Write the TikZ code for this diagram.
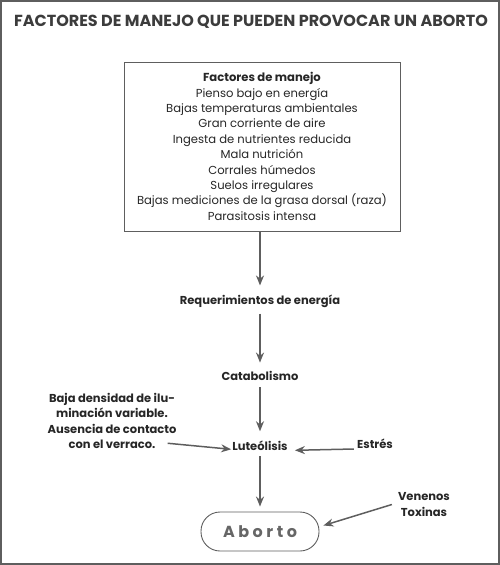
\documentclass[tikz,border=0pt]{standalone}
\usepackage{fontspec}
\setmainfont{Poppins}
\usetikzlibrary{positioning,arrows.meta}
\definecolor{linegray}{HTML}{5E5E5E}
\definecolor{titlegray}{HTML}{3C3C3C}
\begin{document}
\begin{tikzpicture}
            [x=1pt,y=-1pt,
             arr/.style ={draw=linegray,line width=1.5pt,-{Stealth[length=10pt,width=8pt]}},
             lbl/.style ={font=\fontsize{11.5}{15.6}\selectfont\bfseries,text=black!85,inner sep=1pt,align=center},
             factbox/.style ={draw=linegray,line width=0.9pt,minimum width=276pt,minimum height=169pt,
                  align=center,font=\fontsize{11.6}{15.4}\selectfont,text=black!85},
             pill/.style ={draw=linegray,line width=0.9pt,rounded corners=19pt,minimum width=118pt,minimum height=39pt,
                  text=black!60,font=\fontsize{16}{18}\selectfont\bfseries\addfontfeature{LetterSpace=22}}]
            \useasboundingbox (0,0) rectangle (500,565);
            \draw[linegray,line width=2pt] (1,1) rectangle (499,564);
            \node[font=\fontsize{16}{18}\selectfont\bfseries,text=titlegray] (titulo) at (251,22)
                 {FACTORES DE MANEJO QUE PUEDEN PROVOCAR UN ABORTO};
            \node[factbox] (factores) at (262,146.5)
                 {\textbf{Factores de manejo}\\Pienso bajo en energía\\Bajas temperaturas ambientales\\
                  Gran corriente de aire\\Ingesta de nutrientes reducida\\Mala nutrición\\Corrales húmedos\\
                  Suelos irregulares\\Bajas mediciones de la grasa dorsal (raza)\\Parasitosis intensa};
            \node[lbl] (req) at (260,301) {Requerimientos de energía};
            \node[lbl] (cata)[below=62pt of req]{Catabolismo};
            \node[lbl] (luteo)[below=57pt of cata]{Luteólisis};
            \node[pill] (aborto) at (260,531.5) {Aborto};
            \node[lbl] (luz) at (112,421) {Baja densidad de ilu-\\minación variable.\\Ausencia de contacto\\con el verraco.};
            \node[lbl] (estres) at (375,444) {Estrés};
            \node[lbl] (venenos) at (424,504.5) {Venenos\\Toxinas};
            \draw[arr] (factores.south -| req.north) to ([yshift=8pt]req.north);
            \draw[arr] ([yshift=-5pt]req.south) to ([yshift=8pt]cata.north);
            \draw[arr] ([yshift=-5pt]cata.south) to ([yshift=8pt]luteo.north);
            \draw[arr] ([yshift=-5pt]luteo.south) to ([yshift=5pt]aborto.north);
            \draw[arr] ([xshift=-10pt,yshift=7pt]luz.south east) to ([yshift=-4pt]luteo.west);
            \draw[arr] ([xshift=-2pt,yshift=-5pt]estres.west) to ([xshift=6pt,yshift=-5pt]luteo.east);
            \draw[arr] ([xshift=-5pt]venenos.west) to ([xshift=4pt,yshift=6pt]aborto.east);
        \end{tikzpicture}
\end{document}
